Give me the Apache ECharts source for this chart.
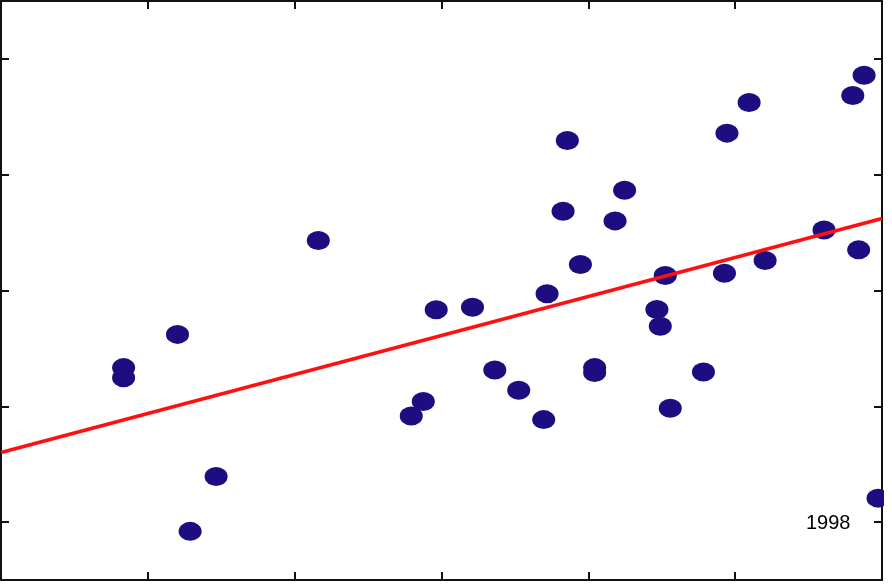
<!DOCTYPE html>
<html>
<head>
<meta charset="utf-8">
<script src="https://cdn.jsdelivr.net/npm/echarts@6/dist/echarts.min.js"></script>
<style>
html,body{margin:0;padding:0;background:#fff;}
#c{width:892px;height:584px;}
</style>
</head>
<body>
<div id="c"></div>
<script>
// Data (arbitrary units: x ticks at 1..5, y ticks at 0..4)
const xValues = [0.835,0.835,1.202,1.288,1.465,2.161,2.794,2.876,2.964,3.211,3.363,3.526,3.696,3.719,3.828,3.857,3.946,4.043,4.043,4.182,4.247,4.467,4.490,4.524,4.558,4.784,4.927,4.944,5.095,5.204,5.605,5.801,5.841,5.878,5.973];
const yValues = [1.334,1.247,1.621,-0.080,0.394,2.431,0.916,1.041,1.834,1.856,1.313,1.138,0.885,1.972,2.684,3.296,2.224,1.334,1.291,2.601,2.865,1.836,1.692,2.129,0.983,1.296,2.149,3.359,3.623,2.259,2.523,3.684,2.351,3.859,0.207];
const fitX = [0, 6];
const fitY = [0.601, 2.621];
const xTicks = [1, 2, 3, 4, 5];
const yTicks = [0, 1, 2, 3, 4];
const annotation = "1998";

const points = xValues.map((x, i) => [x, yValues[i]]);
const fitLine = fitX.map((x, i) => [x, fitY[i]]);

const lineCol = '#111';
const tickStyle = {show: true, inside: true, length: 8, lineStyle: {color: lineCol, width: 2}};
const axisLineStyle = {show: true, onZero: false, lineStyle: {color: lineCol, width: 2}};

const chart = echarts.init(document.getElementById('c'), null, {renderer: 'canvas'});
chart.setOption({
  animation: false,
  backgroundColor: '#fff',
  grid: {left: 1, right: 10, top: 1, bottom: 4, containLabel: false},
  xAxis: [
    {type: 'value', min: 0, max: 6, position: 'bottom',
     axisLine: axisLineStyle, axisTick: Object.assign({customValues: xTicks}, tickStyle),
     axisLabel: {show: false}, splitLine: {show: false}},
    {type: 'value', min: 0, max: 6, position: 'top',
     axisLine: axisLineStyle, axisTick: Object.assign({customValues: xTicks}, tickStyle),
     axisLabel: {show: false}, splitLine: {show: false}}
  ],
  yAxis: [
    {type: 'value', min: -0.5, max: 4.5, position: 'left',
     axisLine: axisLineStyle, axisTick: Object.assign({customValues: yTicks}, tickStyle),
     axisLabel: {show: false}, splitLine: {show: false}},
    {type: 'value', min: -0.5, max: 4.5, position: 'right',
     axisLine: axisLineStyle, axisTick: Object.assign({customValues: yTicks}, tickStyle),
     axisLabel: {show: false}, splitLine: {show: false}}
  ],
  graphic: [
    {type: 'rect', left: 884, top: 0, shape: {width: 8, height: 584}, style: {fill: '#fff'}, z: 1000},
    {type: 'text', left: 806, top: 513, style: {text: annotation, fontSize: 20, fontFamily: 'Liberation Sans, Arial, sans-serif', fill: '#000'}, z: 1001}
  ],
  series: [
    {type: 'scatter', data: points, symbol: 'circle', symbolSize: [23, 19],
     itemStyle: {color: '#1c0d80', opacity: 1}, z: 2, clip: false},
    {type: 'line', data: fitLine, symbol: 'none', lineStyle: {color: '#ff1010', width: 3.6}, z: 3, clip: true}
  ]
});
</script>
</body>
</html>
